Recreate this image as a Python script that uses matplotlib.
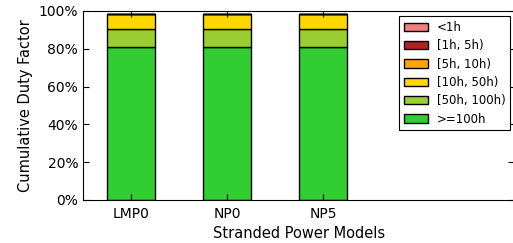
import matplotlib
matplotlib.use("Agg")
import matplotlib.pyplot as plt
import numpy as np

models = ["LMP0", "NP0", "NP5"]
labels = ["<1h", "[1h, 5h)", "[5h, 10h)", "[10h, 50h)", "[50h, 100h)", ">=100h"]
colors = ["lightcoral", "firebrick", "orange", "gold", "yellowgreen", "limegreen"]
# stacked from the bottom: >=100h first
ge100 = [0.81, 0.81, 0.81]
h50_100 = [0.095, 0.095, 0.095]
h10_50 = [0.077, 0.077, 0.077]
h5_10 = [0.0, 0.0, 0.0]
h1_5 = [0.0, 0.0, 0.0]
lt1 = [0.0, 0.0, 0.0]
series = [lt1, h1_5, h5_10, h10_50, h50_100, ge100]

fig = plt.figure(figsize=(5.13, 2.43), dpi=100)
ax = fig.add_axes([0.162, 0.177, 0.84, 0.778])

x = np.arange(len(models))
bottom = np.zeros(len(models))
handles = {}
for lab, col, vals in reversed(list(zip(labels, colors, series))):
    b = ax.bar(x, vals, 0.5, bottom=bottom, color=col, edgecolor="black",
               linewidth=1.0, label=lab)
    handles[lab] = b
    bottom += np.array(vals)

ax.set_xlim(-0.5, 3.99)
ax.set_ylim(0, 1)
ax.set_xticks(x)
ax.set_xticklabels(models)
ax.set_yticks(np.arange(0, 1.01, 0.2))
ax.set_yticklabels(["%d%%" % v for v in range(0, 101, 20)])
ax.tick_params(direction="in", top=True, right=True, labelsize=10, length=4)
ax.tick_params(axis="x", pad=5)
ax.set_xlabel("Stranded Power Models", fontsize=10.5, labelpad=4)
ax.set_ylabel("Cumulative Duty Factor", fontsize=10.5, labelpad=4)

leg = ax.legend([handles[l] for l in labels], labels, loc="upper right",
                bbox_to_anchor=(1.0, 0.99), fontsize=8.5, fancybox=False,
                edgecolor="black", framealpha=1, borderpad=0.4,
                labelspacing=0.45, borderaxespad=0.3)
leg.get_frame().set_linewidth(0.8)

fig.savefig("out.png", dpi=100)
